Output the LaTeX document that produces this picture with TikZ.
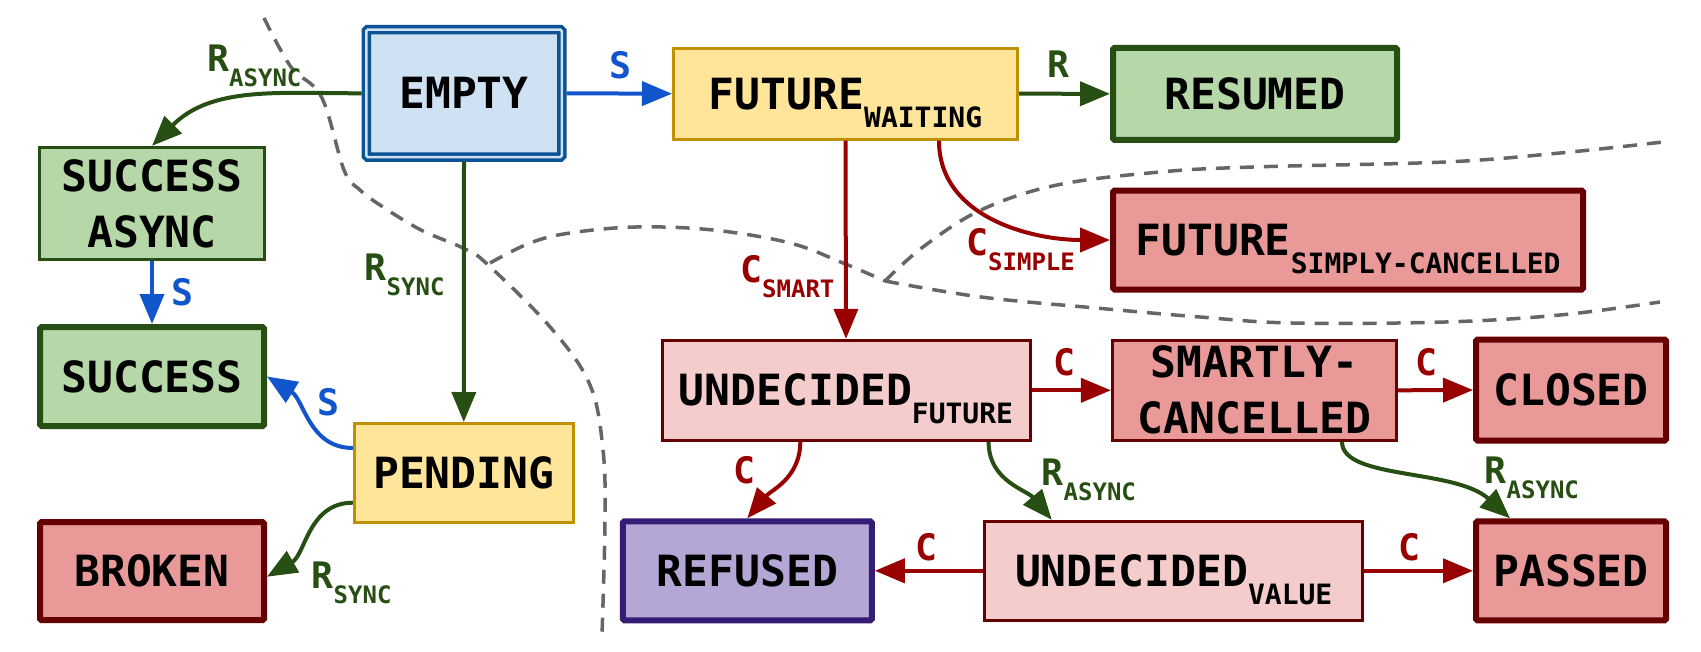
\documentclass[tikz,border=0pt]{standalone}
\usepackage{fontspec}
\newfontfamily\dvmono{DejaVu Sans Mono}[BoldFont={DejaVu Sans Mono Bold}]
\usetikzlibrary{arrows.meta}
\definecolor{blueline}{HTML}{1155CC}
\definecolor{greenline}{HTML}{274E13}
\definecolor{redline}{HTML}{990000}
\definecolor{emptyborder}{HTML}{0B5394}
\definecolor{emptyfill}{HTML}{CFE2F3}
\definecolor{yellowfill}{HTML}{FFE599}
\definecolor{yellowborder}{HTML}{BF9000}
\definecolor{greenfill}{HTML}{B6D7A8}
\definecolor{redfill}{HTML}{EA9999}
\definecolor{redborder}{HTML}{660000}
\definecolor{pinkfill}{HTML}{F4CCCC}
\definecolor{purplefill}{HTML}{B4A7D6}
\definecolor{purpleborder}{HTML}{351C75}
\definecolor{divgray}{HTML}{666666}
\newcommand\nsub[1]{\raisebox{-18pt}[0pt][0pt]{\fontsize{28}{28}\selectfont #1}}
\newcommand\lsub[1]{\raisebox{-15pt}[0pt][0pt]{\fontsize{24}{24}\selectfont #1}}
\begin{document}
\begin{tikzpicture}[x=1pt,y=1pt,
  box/.style={rectangle, draw, inner sep=0pt, align=center,
    font=\dvmono\bfseries\fontsize{43}{56}\selectfont},
  thinbox/.style={box, line width=3pt},
  thickbox/.style={box, line width=6pt, rounded corners=1.5pt},
  greenthin/.style={thinbox, fill=greenfill, draw=greenline},
  greenthick/.style={thickbox, fill=greenfill, draw=greenline},
  yellowthin/.style={thinbox, fill=yellowfill, draw=yellowborder},
  redthick/.style={thickbox, fill=redfill, draw=redborder},
  redthin/.style={thinbox, fill=redfill, draw=redborder},
  pinkthin/.style={thinbox, fill=pinkfill, draw=redborder},
  purplethick/.style={thickbox, fill=purplefill, draw=purpleborder},
  emptybox/.style={box, fill=emptyfill, draw=emptyborder, line width=3.5pt,
    double=emptyfill, double distance=2.5pt, outer sep=4.75pt, rounded corners=1.5pt},
  lbl/.style={inner sep=0pt, anchor=base west,
    font=\dvmono\bfseries\fontsize{36.5}{40}\selectfont},
  edge/.style={line width=4pt, -{Triangle[length=30pt,width=24pt]}},
  divider/.style={draw=divgray, line width=3.5pt, dash pattern=on 14pt off 10pt},
]
\useasboundingbox (0,0) rectangle (1701,-651);
\fill[white] (0,0) rectangle (1701,-651);

% dividers
\draw[divider] plot[smooth, tension=0.6] coordinates {(264,-18) (291,-67) (321.5,-97) (344,-170) (360,-190) (383,-207) (421,-230) (463,-248) (486,-263) (551,-328) (590,-385) (603,-450) (605,-520) (602,-635)};
\draw[divider] plot[smooth, tension=0.6] coordinates {(490,-263) (530,-243) (570,-233) (636,-227) (713,-230) (790,-243) (843,-263) (885,-281)};
\draw[divider] plot[smooth, tension=0.6] coordinates {(885,-281) (981,-297) (1096,-308) (1200,-317) (1292,-323) (1445,-322) (1560,-315) (1660,-302)};
\draw[divider] plot[smooth, tension=0.6] coordinates {(885,-281) (923,-247) (981,-210) (1057,-185) (1160,-172) (1253,-167) (1445,-162) (1560,-153) (1663,-142)};

% nodes
\node[emptybox, minimum width=195.5pt, minimum height=127.5pt] (empty) at (464,-93.3) {EMPTY};
\node[yellowthin, minimum width=344pt, minimum height=91pt] (fw) at (845.5,-93.7) {FUTURE\nsub{WAITING}};
\node[greenthick, minimum width=284pt, minimum height=92pt] (resumed) at (1255,-93.8) {RESUMED};
\node[greenthin, minimum width=225pt, minimum height=112pt] (sa) at (152,-203.4) {SUCCESS\\ASYNC};
\node[greenthick, minimum width=224pt, minimum height=99pt] (success) at (152,-376.5) {SUCCESS};
\node[yellowthin, minimum width=219pt, minimum height=99pt] (pending) at (463.8,-473) {PENDING};
\node[redthick, minimum width=224pt, minimum height=98pt] (broken) at (152,-571) {BROKEN};
\node[redthick, minimum width=470pt, minimum height=99pt] (fsc) at (1348,-240) {FUTURE\nsub{SIMPLY-CANCELLED}};
\node[pinkthin, minimum width=368pt, minimum height=100pt] (uf) at (846,-390.3) {UNDECIDED\nsub{FUTURE}};
\node[redthin, minimum width=284pt, minimum height=100pt] (sc) at (1254.4,-390.3) {SMARTLY-\\CANCELLED};
\node[redthick, minimum width=190pt, minimum height=101pt] (closed) at (1571,-390) {CLOSED};
\node[purplethick, minimum width=249pt, minimum height=99pt] (refused) at (747.3,-570.8) {REFUSED};
\node[pinkthin, minimum width=378.5pt, minimum height=99pt] (uv) at (1173.7,-570.8) {UNDECIDED\nsub{VALUE}};
\node[redthick, minimum width=190pt, minimum height=99pt] (passed) at (1571,-570.8) {PASSED};

% edges
\draw[edge, greenline] (empty.west) to[out=180,in=45] (sa.north);
\draw[edge, blueline] (sa.south) -- (success.north);
\draw[edge, blueline] (empty.east) -- (fw.west);
\draw[edge, greenline] (fw.east) -- (resumed.west);
\draw[edge, greenline] (empty.south) -- (pending.north);
\draw[edge, blueline] ([yshift=25pt]pending.west) to[out=180,in=-32] (success.east);
\draw[edge, greenline] ([yshift=-29.7pt]pending.west) to[out=180,in=30] ([yshift=-5.7pt]broken.east);
\draw[edge, redline] (fw.south) -- (uf.north);
\draw[edge, redline] ([xshift=93.5pt]fw.south) to[out=-90,in=180] (fsc.west);
\draw[edge, redline] (uf.east) -- (sc.west);
\draw[edge, redline] (sc.east) -- (closed.west);
\draw[edge, redline] ([xshift=-45.7pt]uf.south) to[out=-90,in=50] (refused.north);
\draw[edge, greenline] ([xshift=142.6pt]uf.south) to[out=-90,in=130] ([xshift=-121.9pt]uv.north);
\draw[edge, greenline] ([xshift=87.6pt]sc.south) .. controls +(0,-38) and +(-55,50) .. ([xshift=-61pt]passed.north);
\draw[edge, redline] (uv.west) -- (refused.east);
\draw[edge, redline] (uv.east) -- (passed.west);

% labels
\node[lbl, text=greenline] (l1) at (207,-71.7) {R\lsub{ASYNC}};
\node[lbl, text=blueline] (l2) at (171.5,-305) {S};
\node[lbl, text=blueline] (l3) at (609,-78) {S};
\node[lbl, text=greenline] (l4) at (1047.5,-77) {R};
\node[lbl, text=greenline] (l5) at (364.5,-280) {R\lsub{SYNC}};
\node[lbl, text=blueline] (l6) at (317,-415) {S};
\node[lbl, text=greenline] (l7) at (311.5,-588) {R\lsub{SYNC}};
\node[lbl, text=redline] (l8) at (740,-282) {C\lsub{SMART}};
\node[lbl, text=redline] (l9) at (966,-255) {C\lsub{SIMPLE}};
\node[lbl, text=redline] (l10) at (1053,-375) {C};
\node[lbl, text=redline] (l11) at (1415.5,-375) {C};
\node[lbl, text=redline] (l12) at (733.5,-483) {C};
\node[lbl, text=greenline] (l13) at (1041.5,-485) {R\lsub{ASYNC}};
\node[lbl, text=greenline] (l14) at (1484.5,-483) {R\lsub{ASYNC}};
\node[lbl, text=redline] (l15) at (915.5,-560) {C};
\node[lbl, text=redline] (l16) at (1398.5,-560) {C};
\end{tikzpicture}
\end{document}
